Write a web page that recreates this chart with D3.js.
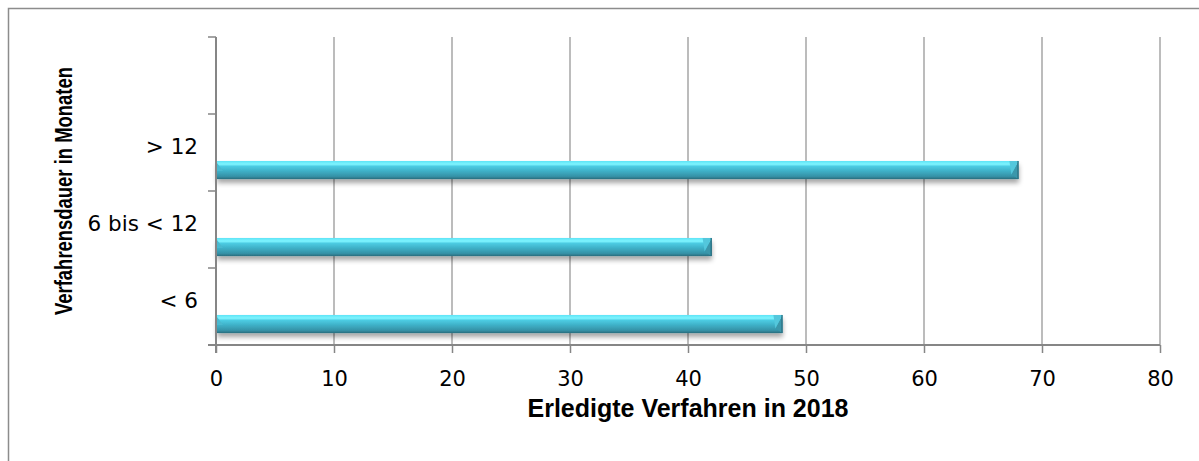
<!DOCTYPE html>
<html>
<head>
<meta charset="utf-8">
<script src="https://cdn.jsdelivr.net/npm/d3@7"></script>
<style>
    body { margin: 0; background: #fff; }
    svg { display: block; }
</style>
</head>
<body>
<svg id="chart"></svg>
<script>
// data
const categories = ["< 6", "6 bis < 12", "> 12", ""];
const values = [48, 42, 68, null];
const xTicks = [0, 10, 20, 30, 40, 50, 60, 70, 80];

const width = 1199, height = 461;
const margin = { top: 37, right: 39, bottom: 116, left: 216 };

const svg = d3.select("#chart")
    .attr("width", width)
    .attr("height", height);

// outer frame
svg.append("rect")
    .attr("x", 8.5).attr("y", 8.5)
    .attr("width", width + 20).attr("height", height + 20)
    .attr("fill", "none")
    .attr("stroke", "#8c8c8c")
    .attr("stroke-width", 1.5);

const x = d3.scaleLinear()
    .domain([0, 80])
    .range([margin.left, width - margin.right]);

// bottom-to-top bands
const y = d3.scaleBand()
    .domain(categories)
    .range([height - margin.bottom, margin.top])
    .padding(0);

const defs = svg.append("defs");
const grad = defs.append("linearGradient")
    .attr("id", "barGrad")
    .attr("x1", 0).attr("y1", 0).attr("x2", 0).attr("y2", 1);
grad.append("stop").attr("offset", "0%").attr("stop-color", "#5fe4f6");
grad.append("stop").attr("offset", "18%").attr("stop-color", "#7ef4ff");
grad.append("stop").attr("offset", "30%").attr("stop-color", "#4ccbe2");
grad.append("stop").attr("offset", "55%").attr("stop-color", "#3fb1c8");
grad.append("stop").attr("offset", "85%").attr("stop-color", "#3592a7");
grad.append("stop").attr("offset", "100%").attr("stop-color", "#2a6d7e");

const shadow = defs.append("filter").attr("id", "shadow")
    .attr("x", "-5%").attr("y", "-50%").attr("width", "110%").attr("height", "250%");
shadow.append("feGaussianBlur").attr("in", "SourceAlpha").attr("stdDeviation", 2.5);
shadow.append("feOffset").attr("dx", 0).attr("dy", 4).attr("result", "blur");
shadow.append("feComponentTransfer").append("feFuncA").attr("type", "linear").attr("slope", 0.35);
const merge = shadow.append("feMerge");
merge.append("feMergeNode");
merge.append("feMergeNode").attr("in", "SourceGraphic");

// gridlines
svg.append("g")
    .selectAll("line")
    .data(xTicks.slice(1))
    .join("line")
    .attr("x1", d => x(d)).attr("x2", d => x(d))
    .attr("y1", margin.top).attr("y2", height - margin.bottom)
    .attr("stroke", "#a6a6a6")
    .attr("stroke-width", 1.5);

// bars
const bh = y.bandwidth() * 0.235;
const barY = d => y(d.cat) + y.bandwidth() * 0.61;
const barData = categories.map((c, i) => ({ cat: c, v: values[i] })).filter(d => d.v != null);

const bars = svg.append("g").selectAll("g")
    .data(barData)
    .join("g")
    .attr("filter", "url(#shadow)");

bars.append("rect")
    .attr("x", x(0) + 1)
    .attr("y", d => barY(d))
    .attr("width", d => x(d.v) - x(0) - 1)
    .attr("height", bh)
    .attr("fill", "url(#barGrad)");

// bevel at right end
bars.append("path")
    .attr("d", d => {
        const x1 = x(d.v), y0 = barY(d);
        return `M${x1 - 7},${y0 + bh * 0.75} L${x1},${y0} L${x1},${y0 + bh} Z`;
    })
    .attr("fill", "#3a97ab");
bars.append("path")
    .attr("d", d => {
        const x1 = x(d.v), y0 = barY(d);
        return `M${x1 - 9},${y0} L${x1},${y0} L${x1 - 7},${y0 + bh * 0.75} Z`;
    })
    .attr("fill", "#52c7dc");
bars.append("rect")
    .attr("x", d => x(d.v) - 1)
    .attr("y", d => barY(d))
    .attr("width", 1.2)
    .attr("height", bh)
    .attr("fill", "#2a6d7e");
// bevel at left start
bars.append("path")
    .attr("d", d => {
        const x0 = x(0) + 1, y0 = barY(d);
        return `M${x0},${y0 + 2} L${x0 + 6},${y0 + bh * 0.55} L${x0},${y0 + bh * 0.55} Z`;
    })
    .attr("fill", "#49b9cf");

const tickFont = "'DejaVu Sans', sans-serif";

// x axis
const xAxis = svg.append("g")
    .attr("transform", `translate(0,${height - margin.bottom})`)
    .call(d3.axisBottom(x).tickValues(xTicks).tickSize(8).tickPadding(18));
xAxis.select(".domain").attr("stroke", "#868686").attr("stroke-width", 2)
    .attr("d", `M${x(0) - 8},0H${x(80)}`);
xAxis.selectAll(".tick line").attr("stroke", "#868686").attr("stroke-width", 1.5);
xAxis.selectAll(".tick text")
    .attr("fill", "#000")
    .style("font-family", tickFont)
    .style("font-size", "21px");

// y axis
const yTickPos = d3.range(categories.length + 1).map(i => height - margin.bottom - i * y.step());
const yAxis = svg.append("g");
yAxis.append("line")
    .attr("x1", x(0)).attr("x2", x(0))
    .attr("y1", margin.top).attr("y2", height - margin.bottom + 8)
    .attr("stroke", "#868686").attr("stroke-width", 2);
yAxis.selectAll(".ytick")
    .data(yTickPos)
    .join("line")
    .attr("class", "ytick")
    .attr("x1", x(0) - 8).attr("x2", x(0))
    .attr("y1", d => d).attr("y2", d => d)
    .attr("stroke", "#868686").attr("stroke-width", 1.5);
yAxis.selectAll("text")
    .data(categories)
    .join("text")
    .attr("x", x(0) - 18)
    .attr("y", d => y(d) + y.bandwidth() / 2 - 5)
    .attr("text-anchor", "end")
    .attr("dominant-baseline", "middle")
    .style("font-family", tickFont)
    .style("font-size", "21.5px")
    .text(d => d);

// axis titles
svg.append("text")
    .attr("x", (x(0) + x(80)) / 2)
    .attr("y", 417)
    .attr("text-anchor", "middle")
    .style("font-family", "'Liberation Sans', Arial, sans-serif")
    .style("font-weight", "bold")
    .style("font-size", "25px")
    .text("Erledigte Verfahren in 2018");

svg.append("text")
    .attr("transform", `translate(72,${(margin.top + height - margin.bottom) / 2}) rotate(-90)`)
    .attr("text-anchor", "middle")
    .style("font-family", "'Liberation Sans Narrow', 'Liberation Sans', Arial, sans-serif")
    .style("font-weight", "bold")
    .style("font-size", "23.5px")
    .attr("textLength", 248)
    .attr("lengthAdjust", "spacingAndGlyphs")
    .text("Verfahrensdauer in Monaten");
</script>
</body>
</html>
